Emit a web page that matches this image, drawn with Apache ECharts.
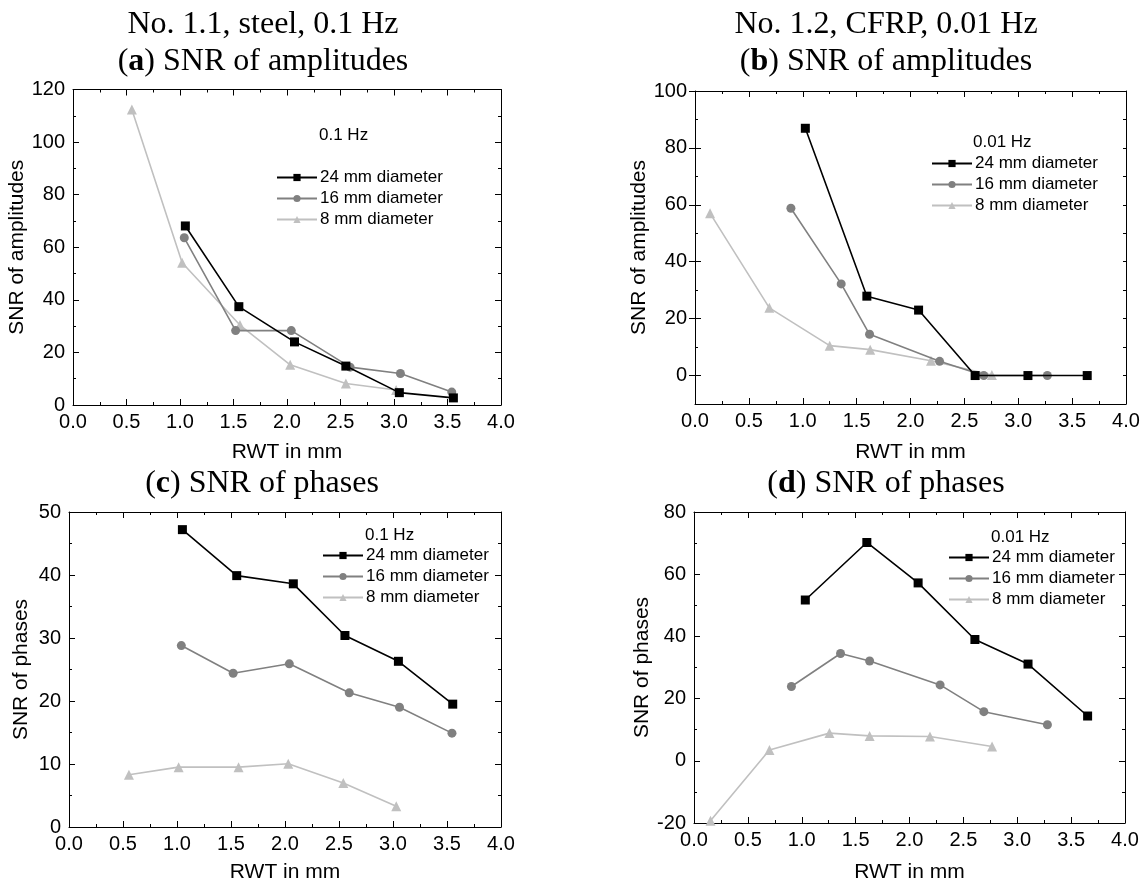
<!DOCTYPE html>
<html><head><meta charset="utf-8">
<script src="https://cdn.jsdelivr.net/npm/echarts@6/dist/echarts.min.js"></script>
<style>html,body{margin:0;padding:0;background:#fff}#c{width:1145px;height:879px}</style>
</head><body><div id="c"></div><script>
// ---------- data ----------
const seriesNames = ['24 mm diameter', '16 mm diameter', '8 mm diameter'];
// (a) No. 1.1, steel, 0.1 Hz - SNR of amplitudes
const aD24 = [[1.05,68.1],[1.55,37.4],[2.07,24.0],[2.55,14.8],[3.05,4.7],[3.555,2.7]];
const aD16 = [[1.04,63.6],[1.52,28.3],[2.04,28.3],[2.59,14.4],[3.06,12.0],[3.54,4.9]];
const aD8  = [[0.55,112.4],[1.02,54.1],[1.56,30.4],[2.03,15.3],[2.55,8.2],[3.02,5.7]];
// (b) No. 1.2, CFRP, 0.01 Hz - SNR of amplitudes
const bD24 = [[1.024,86.9],[1.595,27.9],[2.075,23.0],[2.60,0],[3.09,0],[3.64,0]];
const bD16 = [[0.89,58.8],[1.357,32.2],[1.62,14.5],[2.27,5.0],[2.68,0],[3.27,0]];
const bD8  = [[0.14,57.0],[0.69,23.8],[1.25,10.5],[1.626,9.1],[2.19,5.2],[2.755,0.2]];
// (c) steel - SNR of phases
const cD24 = [[1.05,47.2],[1.553,39.9],[2.077,38.6],[2.555,30.4],[3.05,26.3],[3.553,19.5]];
const cD16 = [[1.04,28.8],[1.52,24.4],[2.04,25.9],[2.595,21.3],[3.06,19.0],[3.546,14.9]];
const cD8  = [[0.555,8.3],[1.015,9.5],[1.57,9.5],[2.03,10.05],[2.54,7.0],[3.03,3.3]];
// (d) CFRP - SNR of phases
const dD24 = [[1.033,51.7],[1.604,70.2],[2.08,57.2],[2.607,39.0],[3.10,31.1],[3.653,14.4]];
const dD16 = [[0.904,23.9],[1.36,34.5],[1.63,32.1],[2.284,24.4],[2.69,15.8],[3.28,11.6]];
const dD8  = [[0.153,-19.3],[0.70,3.5],[1.257,8.9],[1.63,8.0],[2.19,7.8],[2.766,4.6]];

const titleLine1 = ['No. 1.1, steel, 0.1 Hz', 'No. 1.2, CFRP, 0.01 Hz'];
const panelLetters = ['a', 'b', 'c', 'd'];
const panelTitles = ['SNR of amplitudes', 'SNR of amplitudes', 'SNR of phases', 'SNR of phases'];
const yNames = ['SNR of amplitudes', 'SNR of amplitudes', 'SNR of phases', 'SNR of phases'];
const freqLabels = ['0.1 Hz', '0.01 Hz', '0.1 Hz', '0.01 Hz'];
const xName = 'RWT in mm';
const yRanges = [[0,120,20,10],[-10,100,20,10],[0,50,10,5],[-20,80,20,10]];
const xRange = [0, 4, 0.5];

// ---------- layout ----------
const SANS = 'Liberation Sans';
const SERIF = 'Liberation Serif';
const panels = [
  {grid:{left:73,top:89.5,width:428,height:315.5}, data:[aD24,aD16,aD8], legend:{left:276,top:169}, hz:[319,135], title:[263,25,62], xGap:37, yGap:40},
  {grid:{left:695,top:91,width:431,height:313}, data:[bD24,bD16,bD8], legend:{left:931,top:155}, hz:[973,142], title:[886,25,62], xGap:38, yGap:40},
  {grid:{left:69,top:512,width:432,height:315}, data:[cD24,cD16,cD8], legend:{left:322,top:547}, hz:[365,535], title:[262,null,484], xGap:35, yGap:37},
  {grid:{left:694,top:512,width:431,height:311}, data:[dD24,dD16,dD8], legend:{left:948,top:549}, hz:[991,537], title:[886,null,484], xGap:39, yGap:39}
];
const styles = [
  {color:'#000000', symbol:'rect', size:9},
  {color:'#808080', symbol:'circle', size:9},
  {color:'#c0c0c0', symbol:'triangle', size:10}
];

const grids = [], xAxes = [], yAxes = [], series = [], legends = [], graphics = [];
const tickStyle = {color:'#000', width:1};

panels.forEach((p, i) => {
  grids.push(Object.assign({containLabel:false, outerBoundsMode:'none'}, p.grid));
  const [ymin, ymax, ymaj, yminor] = yRanges[i];
  const xBase = {
    gridIndex:i, type:'value', min:xRange[0], max:xRange[1], interval:xRange[2],
    axisLine:{show:true, onZero:false, lineStyle:{color:'#000', width:1}},
    axisTick:{show:true, inside:true, length:6, lineStyle:tickStyle},
    minorTick:{show:true, splitNumber:2, length:3, lineStyle:tickStyle},
    splitLine:{show:false}, minorSplitLine:{show:false}
  };
  xAxes.push(Object.assign({}, xBase, {
    position:'bottom', name:xName, nameLocation:'middle', nameGap:p.xGap,
    nameTextStyle:{fontSize:21, fontFamily:SANS, color:'#000'},
    axisLabel:{show:true, fontSize:20, fontFamily:SANS, color:'#000', margin:7, formatter:v => v.toFixed(1)}
  }));
  xAxes.push(Object.assign({}, xBase, {position:'top', axisLabel:{show:false}}));

  const yBase = {
    gridIndex:i, type:'value', min:ymin, max:ymax,
    axisLine:{show:true, onZero:false, lineStyle:{color:'#000', width:1}},
    splitLine:{show:false}, minorSplitLine:{show:false}
  };
  const offsetMin = (ymin % ymaj) !== 0;
  let yMain;
  if (!offsetMin) {
    yMain = {interval:ymaj,
      axisTick:{show:true, inside:true, length:6, lineStyle:tickStyle},
      minorTick:{show:true, splitNumber:2, length:3, lineStyle:tickStyle}};
  } else {
    yMain = {interval:yminor,
      axisTick:{show:true, inside:true, length:3, lineStyle:tickStyle},
      minorTick:{show:false}};
  }
  yAxes.push(Object.assign({}, yBase, yMain, {
    position:'left', name:yNames[i], nameLocation:'middle', nameGap:p.yGap,
    nameTextStyle:{fontSize:21, fontFamily:SANS, color:'#000'},
    axisLabel:{show:true, fontSize:20, fontFamily:SANS, color:'#000', margin:8,
      formatter:v => (Math.abs(v % ymaj) < 1e-9 ? String(v) : '')}
  }));
  yAxes.push(Object.assign({}, yBase, yMain, {position:'right', axisLabel:{show:false}}));
  if (offsetMin) {
    const majors = [];
    for (let v = Math.ceil(ymin / ymaj) * ymaj; v <= ymax; v += ymaj) majors.push(v);
    ['left','right'].forEach(pos => {
      yAxes.push(Object.assign({}, yBase, {position:pos, axisLine:{show:false},
        axisLabel:{show:false},
        axisTick:{show:true, inside:true, length:6, lineStyle:tickStyle, customValues:majors},
        minorTick:{show:false}}));
    });
  }
  const yIdx = yAxes.length - (offsetMin ? 4 : 2);

  p.data.forEach((d, k) => {
    const s = styles[k];
    series.push({
      type:'line', name:seriesNames[k], xAxisIndex:2*i, yAxisIndex:yIdx,
      data:d, symbol:s.symbol, symbolSize:s.size, showSymbol:true,
      lineStyle:{color:s.color, width:1.6}, itemStyle:{color:s.color},
      z: 3 - k, animation:false
    });
  });

  legends.push({
    show:true, orient:'vertical', left:p.legend.left, top:p.legend.top,
    itemWidth:40, itemHeight:9, itemGap:4, padding:0, selectedMode:false,
    data:seriesNames,
    textStyle:{fontSize:17, fontFamily:SANS, color:'#000', padding:[0,0,0,-2]}
  });

  graphics.push({type:'text', x:p.hz[0], y:p.hz[1],
    style:{text:freqLabels[i], fontSize:17, fontFamily:SANS, fill:'#000', verticalAlign:'middle', align:'left'}});

  if (p.title[1] !== null) {
    graphics.push({type:'text', x:p.title[0], y:p.title[1],
      style:{text:titleLine1[i], fontSize:32, fontFamily:SERIF, fill:'#000', align:'center', verticalAlign:'middle'}});
  }
  graphics.push({type:'text', x:p.title[0], y:p.title[2],
    style:{text:'({b|' + panelLetters[i] + '}) ' + panelTitles[i], fontSize:32, fontFamily:SERIF, fill:'#000',
      align:'center', verticalAlign:'middle',
      rich:{b:{fontSize:32, fontFamily:SERIF, fontWeight:'bold', fill:'#000'}}}});
});

const chart = echarts.init(document.getElementById('c'), null, {renderer:'canvas'});
chart.setOption({
  backgroundColor:'#fff', animation:false,
  grid:grids, xAxis:xAxes, yAxis:yAxes, series:series, legend:legends, graphic:graphics
});
</script></body></html>
